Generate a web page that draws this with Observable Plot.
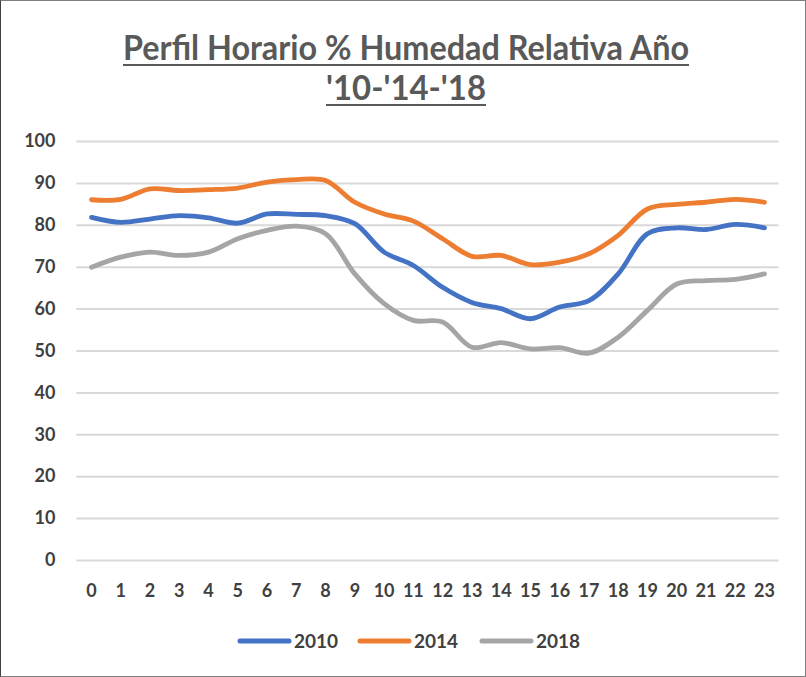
<!DOCTYPE html>
<html>
<head>
<meta charset="utf-8">
<script src="https://cdn.jsdelivr.net/npm/d3@7"></script>
<script src="https://cdn.jsdelivr.net/npm/@observablehq/plot@0.6"></script>
<style>
  html, body { margin: 0; padding: 0; background: #fff; }
  #frame { width: 804px; height: 675px; border: 1px solid #7f7f7f; border-left: 1px solid #404040; position: relative; overflow: hidden; background: #fff; font-family: Lato, "Open Sans", sans-serif; }
  #title { height: 120px; position: relative; }
  #legend { position: absolute; left: 0; top: 622px; width: 804px; height: 36px; }
</style>
</head>
<body>
<div id="frame">
  <div id="title"></div>
  <div id="chart"></div>
  <div id="legend"></div>
</div>
<script>
const hours = d3.range(0, 24);
const yTicks = [0, 10, 20, 30, 40, 50, 60, 70, 80, 90, 100];
const seriesNames = ["2010", "2014", "2018"];
const seriesColors = ["#4472C4", "#ED7D31", "#A5A5A5"];
const values2010 = [81.9, 80.7, 81.5, 82.3, 81.8, 80.5, 82.7, 82.6, 82.3, 80.4, 73.6, 70.4, 65.2, 61.6, 60.1, 57.7, 60.5, 62.0, 68.4, 78.0, 79.4, 79.0, 80.2, 79.4];
const values2014 = [86.1, 86.2, 88.7, 88.3, 88.5, 88.9, 90.3, 90.9, 90.7, 85.5, 82.7, 81.0, 76.8, 72.6, 72.8, 70.6, 71.2, 73.2, 77.6, 83.9, 85.0, 85.5, 86.2, 85.5];
const values2018 = [70.0, 72.4, 73.6, 72.8, 73.6, 76.8, 78.8, 79.8, 78.0, 68.4, 61.3, 57.3, 56.9, 50.9, 52.0, 50.5, 50.8, 49.5, 53.3, 59.7, 66.0, 66.8, 67.1, 68.4];
const titleLines = ["Perfil Horario % Humedad Relativa Año", "'10-'14-'18"];

const allValues = [values2010, values2014, values2018];
const data = [];
seriesNames.forEach((name, i) => {
  hours.forEach((h, j) => data.push({ hour: h, value: allValues[i][j], series: name }));
});

// Title (real text, underlined)
const tsvg = d3.select("#title").append("svg").attr("width", 804).attr("height", 120);
const tcol = "#595959";
const tspecs = [
  { text: titleLines[0], y: 59, len: 566 },
  { text: titleLines[1], y: 99, len: 160 }
];
tspecs.forEach(s => {
  tsvg.append("text")
    .attr("x", 405).attr("y", s.y)
    .attr("text-anchor", "middle")
    .attr("textLength", s.len).attr("lengthAdjust", "spacingAndGlyphs")
    .attr("font-family", "Lato, sans-serif").attr("font-weight", "bold")
    .attr("font-size", 34).attr("fill", tcol)
    .text(s.text);
  tsvg.append("line")
    .attr("x1", 405 - s.len / 2).attr("x2", 405 + s.len / 2)
    .attr("y1", s.y + 5).attr("y2", s.y + 5)
    .attr("stroke", tcol).attr("stroke-width", 2.2);
});

const chart = Plot.plot({
  width: 804,
  height: 485,
  marginTop: 20,
  marginBottom: 46,
  marginLeft: 90,
  marginRight: 41,
  style: { fontFamily: "Lato, sans-serif", fontSize: "18px", fontWeight: "bold", color: "#404040", background: "transparent" },
  x: { domain: [0, 23] },
  y: { domain: [0, 100] },
  color: { domain: seriesNames, range: seriesColors },
  marks: [
    Plot.ruleY(yTicks, { x1: -0.5, x2: 23.5, stroke: "#d9d9d9", strokeWidth: 2 }),
    Plot.axisY({ ticks: yTicks, tickSize: 0, tickPadding: 36, label: null, tickFormat: d => String(d) }),
    Plot.axisX({ ticks: hours, tickSize: 0, tickPadding: 24, label: null, tickFormat: d => String(d) }),
    Plot.line(data, { x: "hour", y: "value", stroke: "series", z: "series", strokeWidth: 4.8, curve: "catmull-rom", strokeLinecap: "round", strokeLinejoin: "round" })
  ]
});
document.getElementById("chart").appendChild(chart);

// Legend
const lsvg = d3.select("#legend").append("svg").attr("width", 804).attr("height", 36);
const lx = [237, 357, 479];
seriesNames.forEach((name, i) => {
  lsvg.append("line").attr("x1", lx[i] + 2).attr("x2", lx[i] + 51)
    .attr("y1", 18).attr("y2", 18)
    .attr("stroke", seriesColors[i]).attr("stroke-width", 5).attr("stroke-linecap", "round");
  lsvg.append("text").attr("x", lx[i] + 56).attr("y", 25)
    .attr("font-family", "Lato, sans-serif").attr("font-weight", "bold")
    .attr("font-size", 19).attr("fill", "#404040").text(name);
});
</script>
</body>
</html>
